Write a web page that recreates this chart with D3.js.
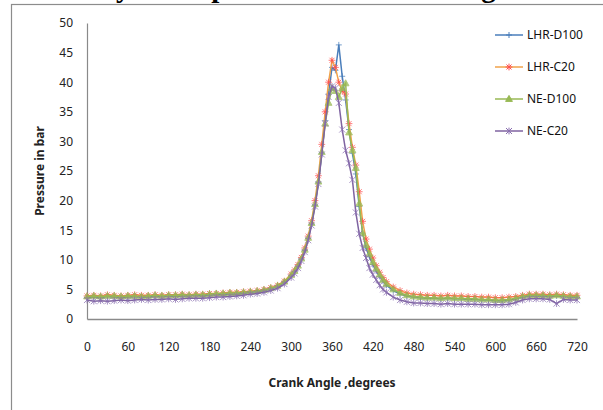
<!DOCTYPE html>
<html>
<head>
<meta charset="utf-8">
<script src="https://cdn.jsdelivr.net/npm/d3@7"></script>
<style>
    body { margin: 0; background: #fff; }
    svg { display: block; }
    .axis text { font-family: "Noto Sans", sans-serif; font-size: 12px; fill: #222; }
    .axis path { stroke: #8a8a8a; }
    .axisLabel { font-family: "Noto Sans", sans-serif; font-size: 12px; font-weight: bold; fill: #222; }
    .legend text { font-family: "Noto Sans", sans-serif; font-size: 12px; fill: #111; }
</style>
</head>
<body>
<div id="chart"></div>
<script>

// crank angle in degrees
var angles = [0, 10, 20, 30, 40, 50, 60, 70, 80, 90, 100, 110, 120, 130, 140, 150, 160, 170, 180, 190,
    200, 210, 220, 230, 240, 250, 260, 270, 280, 290,
    300, 305, 310, 315, 320, 325, 330, 335, 340, 345, 350, 355, 360, 365, 370, 375, 380, 385, 390, 395,
    400, 405, 410, 415, 420, 425, 430, 435, 440,
    450, 460, 470, 480, 490, 500, 510, 520, 530, 540, 550, 560, 570, 580, 590, 600, 610, 620, 630, 640,
    650, 660, 670, 680, 690, 700, 710, 720];

// pressure in bar
var lhrD100 = [3.6, 3.7, 3.6, 3.8, 3.7, 3.6, 3.7, 3.8, 3.7, 3.7, 3.8, 3.8, 3.9, 3.8, 3.9, 3.9, 4.0, 3.9, 4.0, 4.1,
    4.1, 4.2, 4.2, 4.3, 4.5, 4.6, 4.8, 5.1, 5.5, 6.2,
    7.3, 8.0, 8.9, 10.1, 11.6, 13.6, 16.0, 19.2, 23.0, 28.0, 33.5, 38.0, 42.5, 42.0, 46.3, 41.0, 37.0, 32.0, 28.0, 24.5,
    19.0, 14.5, 12.0, 10.5, 9.2, 8.1, 7.2, 6.4, 5.7,
    4.8, 4.2, 3.9, 3.7, 3.6, 3.5, 3.5, 3.4, 3.5, 3.4, 3.4, 3.3, 3.3, 3.2, 3.2, 3.1, 3.1, 3.2, 3.4, 3.7,
    3.9, 3.9, 3.9, 3.8, 3.9, 3.8, 3.7, 3.7];

var lhrC20 = [3.9, 4.0, 3.9, 4.1, 4.0, 3.9, 4.0, 4.1, 4.0, 4.0, 4.1, 4.0, 4.1, 4.1, 4.2, 4.1, 4.2, 4.2, 4.3, 4.3,
    4.4, 4.5, 4.5, 4.6, 4.7, 4.8, 5.0, 5.3, 5.7, 6.4,
    7.6, 8.3, 9.2, 10.4, 12.0, 14.0, 16.6, 20.0, 24.2, 29.5, 35.0, 40.0, 43.7, 42.5, 40.0, 38.5, 38.0, 33.0, 29.0, 26.0,
    21.5, 16.5, 13.5, 11.8, 10.3, 9.0, 7.9, 7.0, 6.3,
    5.4, 4.8, 4.4, 4.2, 4.1, 4.0, 4.0, 3.9, 4.0, 3.9, 3.9, 3.8, 3.8, 3.7, 3.7, 3.6, 3.6, 3.7, 3.8, 4.0,
    4.2, 4.2, 4.2, 4.1, 4.2, 4.1, 4.0, 4.0];

var neD100 = [3.8, 3.9, 3.8, 3.9, 3.9, 3.8, 3.9, 3.9, 3.8, 3.9, 4.0, 3.9, 4.0, 4.0, 4.1, 4.0, 4.1, 4.1, 4.2, 4.3,
    4.3, 4.4, 4.4, 4.5, 4.6, 4.7, 4.9, 5.2, 5.6, 6.3,
    7.4, 8.1, 9.0, 10.2, 11.7, 13.7, 16.2, 19.4, 23.2, 28.2, 33.0, 36.5, 39.0, 38.5, 37.5, 39.0, 39.8, 31.5, 28.5, 25.5,
    19.5, 14.5, 12.5, 11.0, 9.6, 8.5, 7.5, 6.6, 5.9,
    5.0, 4.4, 4.0, 3.8, 3.7, 3.6, 3.6, 3.5, 3.6, 3.5, 3.5, 3.4, 3.4, 3.3, 3.3, 3.2, 3.2, 3.3, 3.5, 3.8,
    4.0, 4.0, 4.0, 3.9, 4.0, 3.9, 3.8, 3.8];

var neC20 = [3.2, 3.0, 3.1, 3.0, 3.1, 3.2, 3.1, 3.2, 3.3, 3.2, 3.3, 3.3, 3.4, 3.3, 3.4, 3.5, 3.5, 3.5, 3.6, 3.7,
    3.7, 3.8, 3.9, 4.0, 4.2, 4.3, 4.5, 4.8, 5.2, 5.9,
    7.0, 7.7, 8.6, 9.8, 11.3, 13.3, 15.8, 19.0, 22.8, 27.8, 33.0, 37.5, 39.3, 39.0, 36.5, 32.0, 28.5, 26.3, 23.5, 18.0,
    14.4, 12.0, 10.3, 8.6, 7.5, 6.6, 5.7, 5.0, 4.5,
    3.7, 3.2, 2.9, 2.7, 2.7, 2.6, 2.6, 2.5, 2.6, 2.5, 2.5, 2.5, 2.5, 2.4, 2.4, 2.4, 2.4, 2.5, 2.8, 3.2,
    3.4, 3.4, 3.4, 3.3, 2.6, 3.3, 3.2, 3.2];

var seriesNames = ["LHR-D100", "LHR-C20", "NE-D100", "NE-C20"];
var xTicks = [0, 60, 120, 180, 240, 300, 360, 420, 480, 540, 600, 660, 720];
var yTicks = [0, 5, 10, 15, 20, 25, 30, 35, 40, 45, 50];

/*
SVG CANVAS
*/
var width = 603;
var height = 410;
var margin = { top: 23, left: 87, right: 26, bottom: 91 };

var svg = d3.select("#chart")
    .append("svg")
    .attr("width", width)
    .attr("height", height);

// caption of the figure above, only its bottom edge shows in the crop
svg.append("text")
    .attr("x", 95)
    .attr("y", -3.5)
    .style("font-family", "'Liberation Serif', serif")
    .style("font-weight", "bold")
    .style("font-size", "29px")
    .text("Cylinder pressure Vs Crank angle");

// chart frame
svg.append("rect")
    .attr("x", 11.5)
    .attr("y", 4.5)
    .attr("width", 640)
    .attr("height", 440)
    .attr("fill", "none")
    .attr("stroke", "#8c8c8c")
    .attr("stroke-width", 1.2);

var xScale = d3.scaleLinear()
    .domain([0, 720])
    .range([margin.left, width - margin.right]);

var yScale = d3.scaleLinear()
    .domain([0, 50])
    .range([height - margin.bottom, margin.top]);

var xAxis = svg.append("g")
    .attr("class", "axis")
    .attr("transform", `translate(0,${height - margin.bottom})`)
    .call(d3.axisBottom(xScale).tickValues(xTicks).tickSize(0).tickPadding(23).tickFormat(d3.format("d")));

var yAxis = svg.append("g")
    .attr("class", "axis")
    .attr("transform", `translate(${margin.left},0)`)
    .call(d3.axisLeft(yScale).tickValues(yTicks).tickSize(0).tickPadding(14));

xAxis.select(".domain").attr("stroke", "#8a8a8a").attr("stroke-width", 1.5);
yAxis.select(".domain").attr("stroke", "#8a8a8a").attr("stroke-width", 1.2);

svg.append("text")
    .attr("class", "axisLabel")
    .attr("x", 332)
    .attr("y", 387)
    .attr("text-anchor", "middle")
    .text("Crank Angle ,degrees");

svg.append("text")
    .attr("class", "axisLabel")
    .attr("transform", "rotate(-90)")
    .attr("x", -171)
    .attr("y", 44)
    .attr("text-anchor", "middle")
    .text("Pressure in bar");

/*
MARKER SHAPES
*/
function markerPath(type) {
    if (type == "plus") return "M-3,0L3,0M0,-3L0,3";
    if (type == "star") return "M-3.4,0L3.4,0M0,-3.4L0,3.4M-2.5,-2.5L2.5,2.5M-2.5,2.5L2.5,-2.5";
    if (type == "tri") return "M0,-3.6L3.4,2.4L-3.4,2.4Z";
    return "M-3,-3L3,3M-3,3L3,-3M0,-3.4L0,3.4";
}

var series = [
    { name: seriesNames[0], values: lhrD100, line: "#4a7ebb", mark: "#4a7ebb", shape: "plus" },
    { name: seriesNames[1], values: lhrC20, line: "#f0a24a", mark: "#ff4f4f", shape: "star" },
    { name: seriesNames[2], values: neD100, line: "#98b954", mark: "#98b954", shape: "tri" },
    { name: seriesNames[3], values: neC20, line: "#7f63a1", mark: "#8a6fb0", shape: "x" }
];

var line = d3.line()
    .x(function(d) { return xScale(d.angle); })
    .y(function(d) { return yScale(d.p); })
    .curve(d3.curveLinear);

series.forEach(function(s) {
    var pts = angles.map(function(a, i) { return { angle: a, p: s.values[i] }; });

    svg.append("path")
        .datum(pts)
        .attr("d", line)
        .attr("fill", "none")
        .attr("stroke", s.line)
        .attr("stroke-width", 1.5);

    svg.append("g")
        .selectAll("path")
        .data(pts)
        .enter()
        .append("path")
        .attr("transform", function(d) { return `translate(${xScale(d.angle)},${yScale(d.p)})`; })
        .attr("d", markerPath(s.shape))
        .attr("fill", s.shape == "tri" ? s.mark : "none")
        .attr("stroke", s.mark)
        .attr("stroke-width", 1)
        .attr("opacity", 0.75);
});

/*
LEGEND
*/
var legend = svg.append("g")
    .attr("class", "legend");

var items = legend.selectAll("g")
    .data(series)
    .enter()
    .append("g")
    .attr("transform", function(d, i) { return `translate(495,${35 + i * 32})`; });

items.append("line")
    .attr("x1", 0)
    .attr("x2", 28)
    .attr("stroke", function(d) { return d.line; })
    .attr("stroke-width", 1.5);

items.append("path")
    .attr("transform", "translate(14,0)")
    .attr("d", function(d) { return markerPath(d.shape); })
    .attr("fill", function(d) { return d.shape == "tri" ? d.mark : "none"; })
    .attr("stroke", function(d) { return d.mark; })
    .attr("stroke-width", 1);

items.append("text")
    .attr("x", 32)
    .attr("y", 0)
    .attr("dy", "0.35em")
    .text(function(d) { return d.name; });

</script>
</body>
</html>
